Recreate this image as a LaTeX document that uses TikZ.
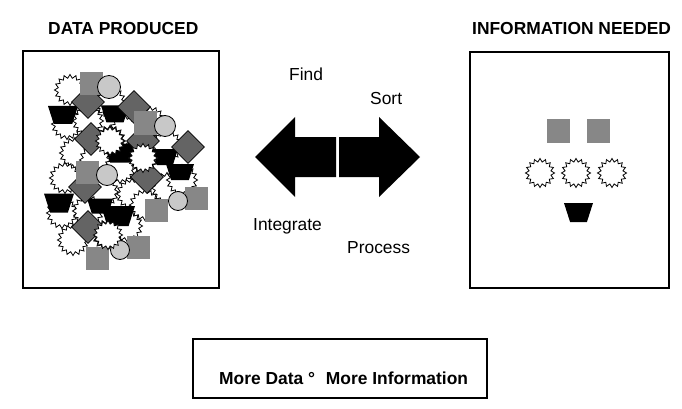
\documentclass[tikz,border=0pt]{standalone}
\usepackage{fontspec}
\setmainfont{Liberation Sans}
\usetikzlibrary{shapes.geometric}
\definecolor{sqgray}{RGB}{135,135,135}
\definecolor{dmgray}{RGB}{100,100,100}
\definecolor{crgray}{RGB}{200,200,200}
\newcommand\trapz[4]{%
  \fill[black] ({#1-#3/2},{#2-#4/2}) -- ({#1+#3/2},{#2-#4/2}) -- ({#1+#3/2-0.32*#4},{#2+#4/2}) -- ({#1-#3/2+0.32*#4},{#2+#4/2}) -- cycle;}
\begin{document}
\begin{tikzpicture}[x=1pt,y=-1pt,
  txt/.style={font=\fontsize{17.4}{20}\selectfont, inner sep=0, anchor=base west},
  btxt/.style={txt, font=\fontsize{17.4}{20}\selectfont\bfseries},
  frame/.style={draw, line width=1.1pt, inner sep=0},
  burst/.style={star, star points=16, star point ratio=1.3, draw, line width=0.8pt, fill=white, minimum size=31pt, inner sep=0},
  sq/.style={rectangle, fill=sqgray, minimum size=23pt, inner sep=0},
  dia/.style={diamond, draw, line width=0.8pt, fill=dmgray, minimum size=33pt, inner sep=0},
  crc/.style={circle, draw, line width=0.8pt, fill=crgray, inner sep=0},
  bigarrow/.style={fill=black}
]
\useasboundingbox (0,0) rectangle (682,409);
\fill[white] (0,0) rectangle (682,409);

% titles
\node[btxt] (t1) at (48,35) {DATA PRODUCED};
\node[btxt] (t2) at (472,35) {INFORMATION NEEDED};

% frames
\node[frame, minimum width=196pt, minimum height=237pt] (leftbox) at (121,169.5) {};
\node[frame, minimum width=199pt, minimum height=236pt] (rightbox) at (569.5,170) {};
\node[frame, minimum width=294pt, minimum height=59pt] (botbox) at (340,368.5) {};

% cluster: bursts
\foreach \x/\y [count=\i] in {70/90, 110/102, 67/124, 88/121, 125/131, 150/122, 75/153, 110/141, 95/160,
  143/158, 167/146, 120/168, 65/178, 103/192, 132/194, 167/188, 182/180, 62/213, 88/211, 145/205,
  73/240, 108/235, 127/226}
  \node[burst] (b\i) at (\x,\y) {};

% trapezoids
\trapz{63}{115}{30}{18}
\trapz{115}{114}{28}{17}
\trapz{120}{153}{32}{19}
\trapz{165}{157}{26}{16}
\trapz{180}{172}{28}{16}
\trapz{59}{203}{30}{19}
\trapz{100}{206}{26}{15}
\trapz{118}{216}{34}{20}

% diamonds
\foreach \x/\y [count=\i] in {88/102, 134/107, 143/141, 91/139, 188/147, 147/177, 85/187, 88/227}
  \node[dia] (d\i) at (\x,\y) {};

% squares
\foreach \x/\y [count=\i] in {91/84, 145/123, 87/172, 156/210, 196/198, 138/247, 97/258}
  \node[sq] (q\i) at (\x,\y) {};

% circles
\foreach \x/\y/\r [count=\i] in {109/87/23, 165/126/21, 107/175/21, 178/201/19, 120/250/19}
  \node[crc, minimum size=\r pt] (c\i) at (\x,\y) {};

% a few bursts on top
\node[burst, minimum size=29pt] (bt1) at (110,141) {};
\node[burst, minimum size=29pt] (bt2) at (143,158) {};
\node[burst, minimum size=29pt] (bt3) at (108,235) {};

% arrows
\fill[bigarrow] (255,157) -- (295,117) -- (295,137) -- (336,137) -- (336,177) -- (295,177) -- (295,197) -- cycle;
\fill[bigarrow] (420,157) -- (379,117) -- (379,137) -- (339,137) -- (339,177) -- (379,177) -- (379,197) -- cycle;

% labels
\node[txt] (find) at (289,81) {Find};
\node[txt] (sort) at (370,105) {Sort};
\node[txt] (integ) at (253,230) {Integrate};
\node[txt] (proc) at (347,253) {Process};

% right box content
\node[sq, minimum size=23pt] (rq1) at (558.5,131) {};
\node[sq, minimum size=23pt] (rq2) at (598.5,131) {};
\node[burst, minimum size=29pt] (rb1) at (540,173) {};
\node[burst, minimum size=29pt] (rb2) at (576,173) {};
\node[burst, minimum size=29pt] (rb3) at (612,173) {};
\trapz{578.5}{212.5}{29}{19}

% bottom text
\node[btxt] (bottxt) at (219,384) {More Data °\hspace{6pt} More Information};
\end{tikzpicture}
\end{document}
